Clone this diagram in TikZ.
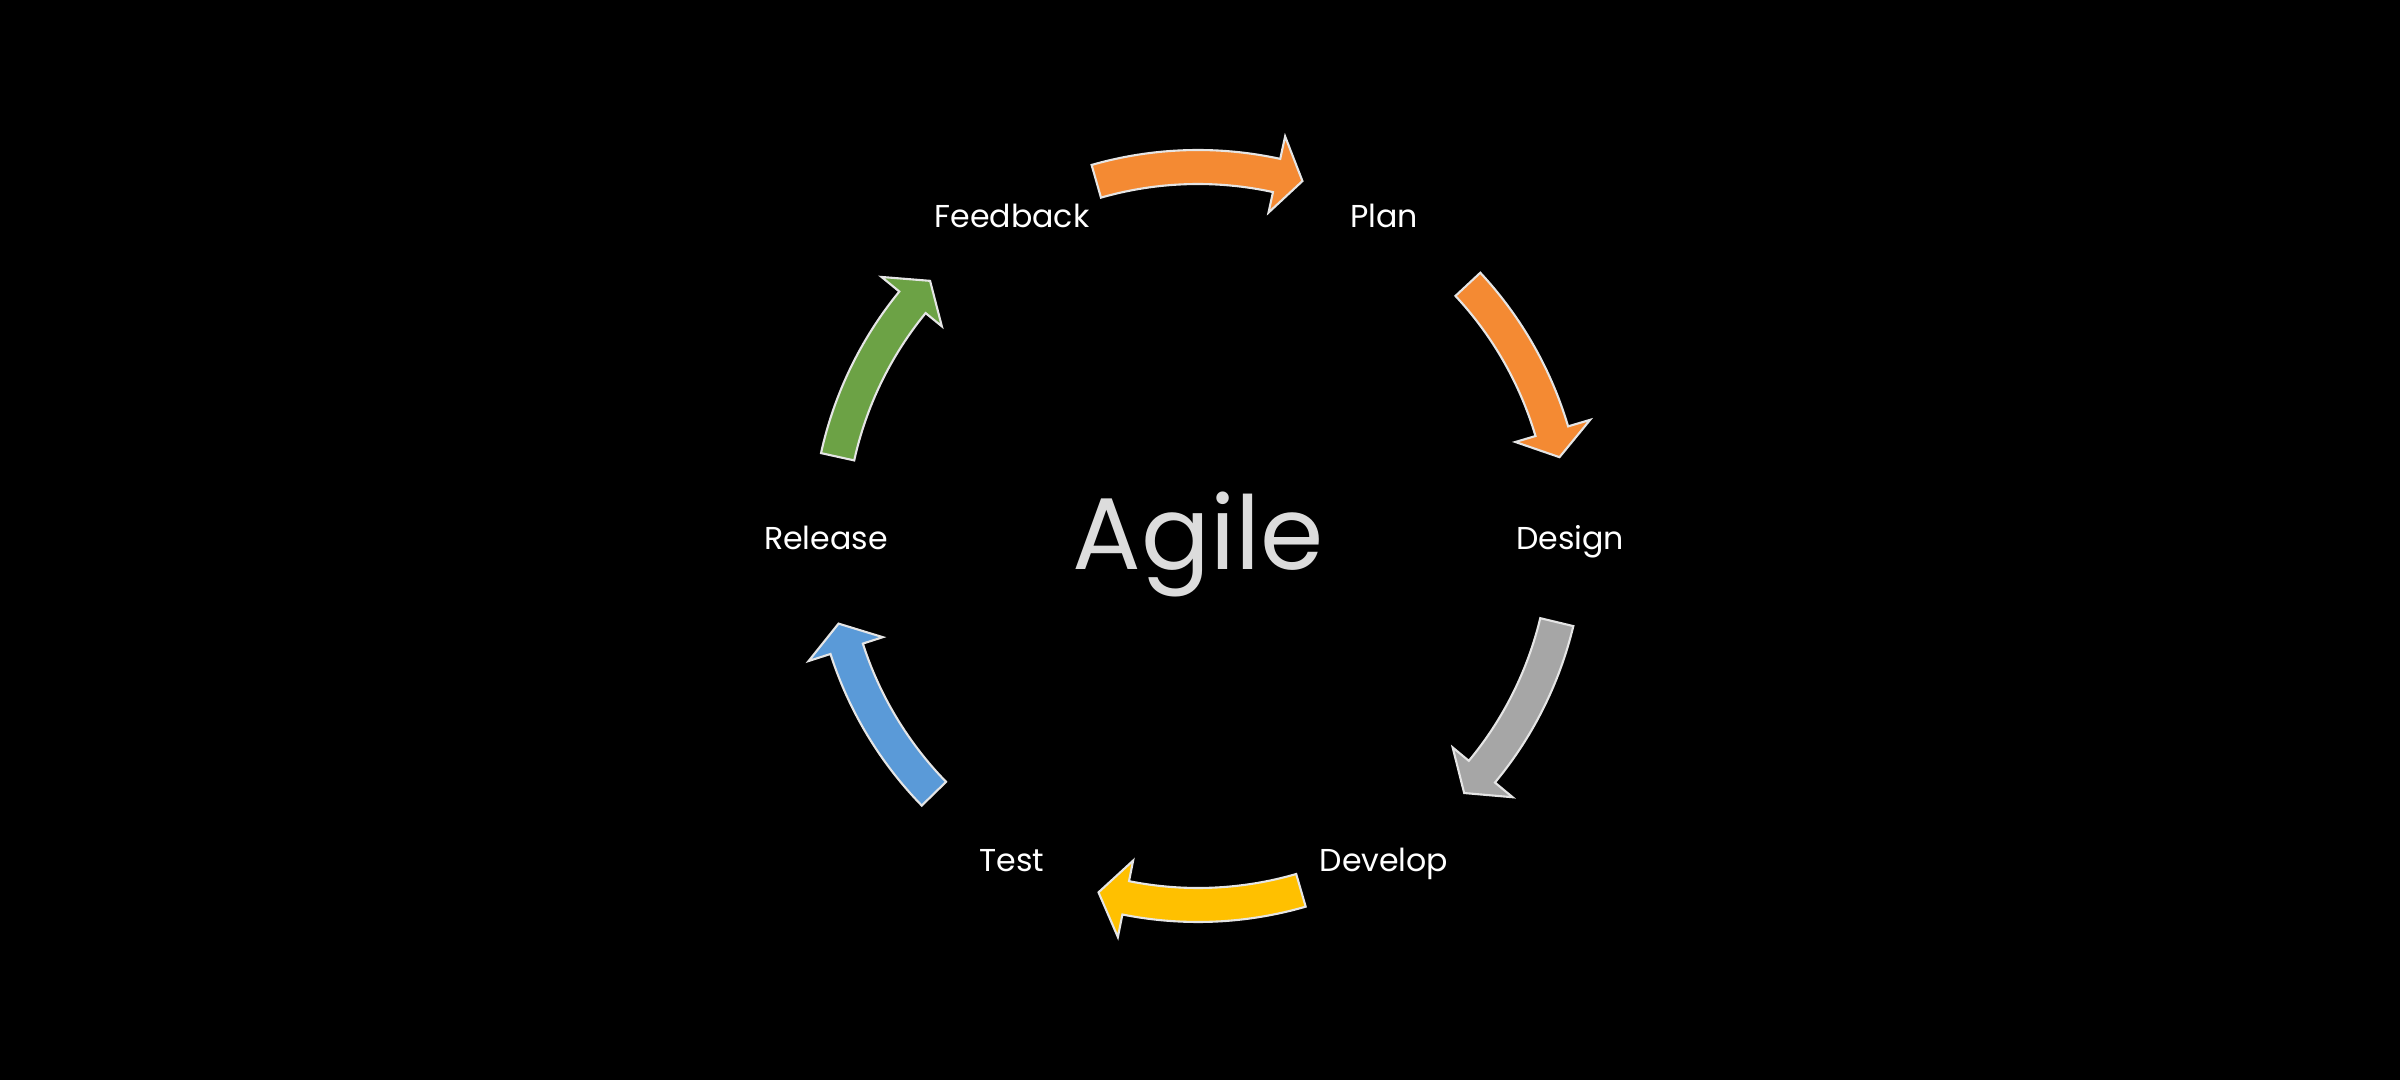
\documentclass[tikz,border=0pt]{standalone}
\usepackage{fontspec}
\setmainfont{Poppins}
\definecolor{aorange}{HTML}{F48A33}
\definecolor{agrey}{HTML}{A6A6A6}
\definecolor{ayellow}{HTML}{FFC000}
\definecolor{ablue}{HTML}{5A9AD8}
\definecolor{agreen}{HTML}{6CA245}
\definecolor{atext}{HTML}{DCDCDC}
\tikzset{
  arr/.style={draw=white!90!black, line width=0.6pt, line join=miter},
  lbl/.style={text=white, font=\fontsize{9}{10}\selectfont, anchor=base, yshift=-1.35mm},
}
% colour, tail angle, head-base angle, tip angle
\newcommand\cyclearrow[4]{%
  \path[arr, fill=#1] (#2:3.86) arc[start angle=#2, end angle=#3, radius=3.86]
    -- (#3:4.09) -- (#4:3.70) -- (#3:3.31) -- (#3:3.52)
    arc[start angle=#3, end angle=#2, radius=3.52] -- cycle;}
\begin{document}
\begin{tikzpicture}
\fill[black] (-11.98,-5.44) rectangle (12.02,5.36);
\useasboundingbox (-11.98,-5.44) rectangle (12.02,5.36);

\cyclearrow{aorange}{106}{77.7}{73.6}
\cyclearrow{aorange}{43}{16.5}{12.3}
\cyclearrow{agrey}{-13.5}{-39.7}{-44}
\cyclearrow{ayellow}{-73.8}{-101.3}{-105.6}
\cyclearrow{ablue}{-135.7}{-162.2}{-166.3}
\cyclearrow{agreen}{167.6}{140.7}{136.4}

\node[lbl] (feedback) at (120:3.72) {Feedback};
\node[lbl] (plan) at (60:3.72) {Plan};
\node[lbl] (design) at (0:3.72) {Design};
\node[lbl] (develop) at (-60:3.72) {Develop};
\node[lbl] (test) at (-120:3.72) {Test};
\node[lbl] (release) at (180:3.72) {Release};

\node[text=atext, font=\fontsize{29}{30}\selectfont, anchor=base] (agile) at (0,-0.34) {Agile};
\end{tikzpicture}
\end{document}
